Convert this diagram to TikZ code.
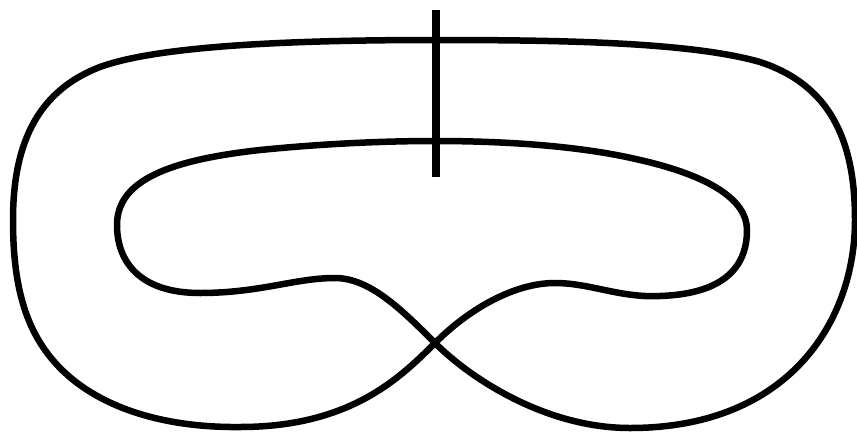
\documentclass[tikz,border=0pt]{standalone}
\begin{document}
\begin{tikzpicture}[x=1pt,y=-1pt,
  curve/.style={line width=6.5pt,line join=round},
  bar/.style={line width=8pt}]
\useasboundingbox (0,0) rectangle (857,437);
\coordinate (C) at (435,343);
\coordinate (T) at (436,10);
\coordinate (B) at (436,177);
\draw[curve] (C) .. controls (402,310) and (370,278) .. (335,278)
  .. controls (295,278) and (260,293) .. (200,293)
  .. controls (140,293) and (117,262) .. (117,225)
  .. controls (117,180) and (170,160) .. (260,150)
  .. controls (320,144) and (380,141) .. (435,141)
  .. controls (520,141) and (590,148) .. (640,160)
  .. controls (710,176) and (747,200) .. (747,230)
  .. controls (747,270) and (720,294) .. (660,296)
  .. controls (620,298) and (590,283) .. (555,283)
  .. controls (515,283) and (470,308) .. (C)
  .. controls (400,378) and (350,427) .. (240,427)
  .. controls (150,428) and (80,400) .. (45,350)
  .. controls (20,315) and (13,270) .. (13,220)
  .. controls (13,140) and (40,90) .. (100,67)
  .. controls (160,45) and (300,40) .. (435,40)
  .. controls (560,40) and (690,42) .. (760,62)
  .. controls (830,85) and (855,140) .. (855,220)
  .. controls (855,320) and (790,428) .. (630,428)
  .. controls (545,428) and (470,378) .. (C) -- cycle;
\draw[bar] (T) -- (B);
\end{tikzpicture}
\end{document}
